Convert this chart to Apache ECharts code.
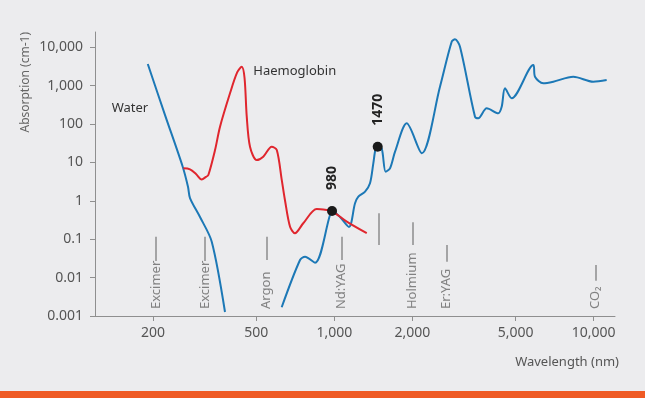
<!DOCTYPE html>
<html>
<head>
<meta charset="utf-8">
<script src="https://cdn.jsdelivr.net/npm/echarts@6/dist/echarts.min.js"></script>
<style>
html, body { margin: 0; padding: 0; background: #ececee; }
#main { width: 645px; height: 398px; }
</style>
</head>
<body>
<div id="main"></div>
<script>
var fontName = "'Noto Sans', sans-serif";
var axisColor = "#8f8f8f";
var labelColor = "#555";
var waterColor = "#1c78b6";
var haemColor = "#e0262e";

// wavelength (nm), absorption (cm-1)
var waterUv = [[190.8, 3650], [222.4, 171], [260.2, 7.73], [272.8, 2.29], [277.6, 1.18],
  [303.4, 0.378], [336.7, 0.0861], [378.8, 0.00127]];
var waterIr = [[626.7, 0.00169], [737.5, 0.0287], [770.9, 0.035], [842.5, 0.0244], [962.5, 0.427],
  [980, 0.54], [1052, 0.378], [1139, 0.208], [1202, 0.861], [1238, 1.28], [1314, 1.73],
  [1373, 2.86], [1414, 9.48], [1444, 23.3], [1470, 25.6], [1523, 23.3], [1578, 5.73],
  [1640, 7.02], [1715, 19.0], [1902, 104], [2174, 17.3], [2556, 936], [2836, 13900],
  [2920, 16060], [3053, 10300], [3488, 155], [3592, 141], [3871, 256], [4290, 190],
  [4422, 282], [4553, 851], [4832, 467], [5855, 3440], [5943, 1706], [6397, 1148],
  [6993, 1264], [8351, 1706], [9973, 1264], [11232, 1400]];
var haemoglobin = [[261.6, 7.0], [277.6, 6.6], [292.8, 5.0], [308, 3.6], [320, 4.2], [326.7, 4.7],
  [346.7, 21], [362.4, 85], [396, 630], [422, 2200], [439.5, 3100], [450.6, 1580],
  [459.5, 155], [473, 25.6], [502, 11.5], [532, 14.1], [573.5, 25.6], [600, 21],
  [627, 3.5], [645, 1.05], [675, 0.21], [705, 0.143], [759, 0.26], [855, 0.61],
  [935, 0.575], [980, 0.54], [1117, 0.286], [1334, 0.143]];

var dotNames = ['980', '1470'];
var dots = [[980, 0.54], [1470, 25.6]];

var laserNames = ['Excimer', 'Excimer', 'Argon', 'Nd:YAG', '', 'Holmium', 'Er:YAG', 'CO₂'];
var laserWavelengths = [205, 317, 548, 1068, 1487, 2000, 2712, 10190];
var laserLineTop = [0.116, 0.116, 0.116, 0.116, 0.472, 0.275, 0.0706, 0.0213];
var laserLineBottom = [0.027, 0.027, 0.0287, 0.0287, 0.0706, 0.0706, 0.0259, 0.0083];
var laserLabelLevel = 0.00152;

var xTicks = [200, 500, 1000, 2000, 5000, 10000];
var xTickLabels = ['200', '500', '1,000', '2,000', '5,000', '10,000'];
var yTicks = [0.001, 0.01, 0.1, 1, 10, 100, 1000, 10000];
var yTickLabels = ['0.001', '0.01', '0.1', '1', '10', '100', '1,000', '10,000'];

function pickLabel(ticks, labels, v) {
  var best = 0;
  for (var i = 1; i < ticks.length; i++) {
    if (Math.abs(Math.log(ticks[i] / v)) < Math.abs(Math.log(ticks[best] / v))) best = i;
  }
  return labels[best];
}

var chart = echarts.init(document.getElementById('main'));

var laserPoints = laserNames.map(function (n, i) {
  return { name: n, value: [laserWavelengths[i], laserLabelLevel] };
});
var laserLines = laserWavelengths.map(function (w, i) {
  return [{ coord: [w, laserLineTop[i]] }, { coord: [w, laserLineBottom[i]] }];
});

var option = {
  backgroundColor: '#ececee',
  animation: false,
  grid: { left: 95, right: 30, top: 32, bottom: 82, outerBoundsMode: 'none' },
  xAxis: {
    type: 'log', logBase: 10, min: 119.4, max: 12095,
    axisLine: { onZero: false, lineStyle: { color: axisColor, width: 1 } },
    axisTick: { show: true, length: 5, customValues: xTicks, lineStyle: { color: axisColor } },
    axisLabel: {
      customValues: xTicks, color: labelColor, fontSize: 14, fontFamily: fontName, margin: 10,
      formatter: function (v) { return pickLabel(xTicks, xTickLabels, v); }
    },
    splitLine: { show: false }, minorTick: { show: false }
  },
  yAxis: {
    type: 'log', logBase: 10, min: 0.001, max: 24900,
    axisLine: { show: true, onZero: false, lineStyle: { color: axisColor, width: 1 } },
    axisTick: { show: true, length: 5, customValues: yTicks, lineStyle: { color: axisColor } },
    axisLabel: {
      customValues: yTicks, color: labelColor, fontSize: 14, fontFamily: fontName, margin: 12,
      formatter: function (v) { return pickLabel(yTicks, yTickLabels, v); }
    },
    splitLine: { show: false }, minorTick: { show: false }
  },
  series: [{
    name: 'Water', type: 'line', data: waterUv, smooth: 0.3, showSymbol: false,
    lineStyle: { color: waterColor, width: 2 }, itemStyle: { color: waterColor },
    markPoint: {
      symbolSize: 0, silent: true,
      label: { show: true, position: 'right', distance: 0, formatter: '{b}', color: '#333', fontSize: 13, fontFamily: fontName },
      data: [{ name: 'Water', coord: [138.5, 256] }]
    }
  }, {
    name: 'Water IR', type: 'line', data: waterIr, smooth: 0.3, showSymbol: false,
    lineStyle: { color: waterColor, width: 2 }, itemStyle: { color: waterColor }
  }, {
    name: 'Haemoglobin', type: 'line', data: haemoglobin, smooth: 0.3, showSymbol: false,
    lineStyle: { color: haemColor, width: 2 }, itemStyle: { color: haemColor },
    markPoint: {
      symbolSize: 0, silent: true,
      label: { show: true, position: 'right', distance: 0, formatter: '{b}', color: '#333', fontSize: 13, fontFamily: fontName },
      data: [{ name: 'Haemoglobin', coord: [487, 2400] }]
    }
  }, {
    name: 'Lasers', type: 'scatter', data: laserPoints, symbolSize: 0, silent: true,
    label: {
      show: true, position: 'top', distance: 0, rotate: 90, align: 'left', verticalAlign: 'middle',
      formatter: '{b}', color: '#666', fontSize: 13, fontFamily: fontName
    },
    markLine: {
      silent: true, symbol: ['none', 'none'], label: { show: false },
      lineStyle: { color: '#8d8d8d', width: 1.5, type: 'solid' },
      data: laserLines
    }
  }, {
    name: 'Dots', type: 'scatter', symbolSize: 10, silent: true, z: 5,
    data: dots.map(function (d, i) { return { name: dotNames[i], value: d }; }),
    itemStyle: { color: '#1a1a1a', opacity: 1 },
    label: {
      show: true, position: 'top', distance: 16, rotate: 90, align: 'left', verticalAlign: 'middle',
      formatter: '{b}', color: '#222', fontSize: 14, fontWeight: 'bold', fontFamily: fontName
    }
  }],
  graphic: [{
    type: 'text', x: 26, y: 32, rotation: Math.PI / 2, silent: true,
    style: { text: 'Absorption (cm-1)', align: 'right', verticalAlign: 'middle', fill: '#666', font: "12px 'Noto Sans'" }
  }, {
    type: 'text', x: 619, y: 362, silent: true,
    style: { text: 'Wavelength (nm)', align: 'right', verticalAlign: 'middle', fill: '#555', font: "13px 'Noto Sans'" }
  }, {
    type: 'rect', silent: true, shape: { x: 0, y: 391, width: 645, height: 7 },
    style: { fill: '#ef5a24' }
  }]
};

chart.setOption(option);
</script>
</body>
</html>
